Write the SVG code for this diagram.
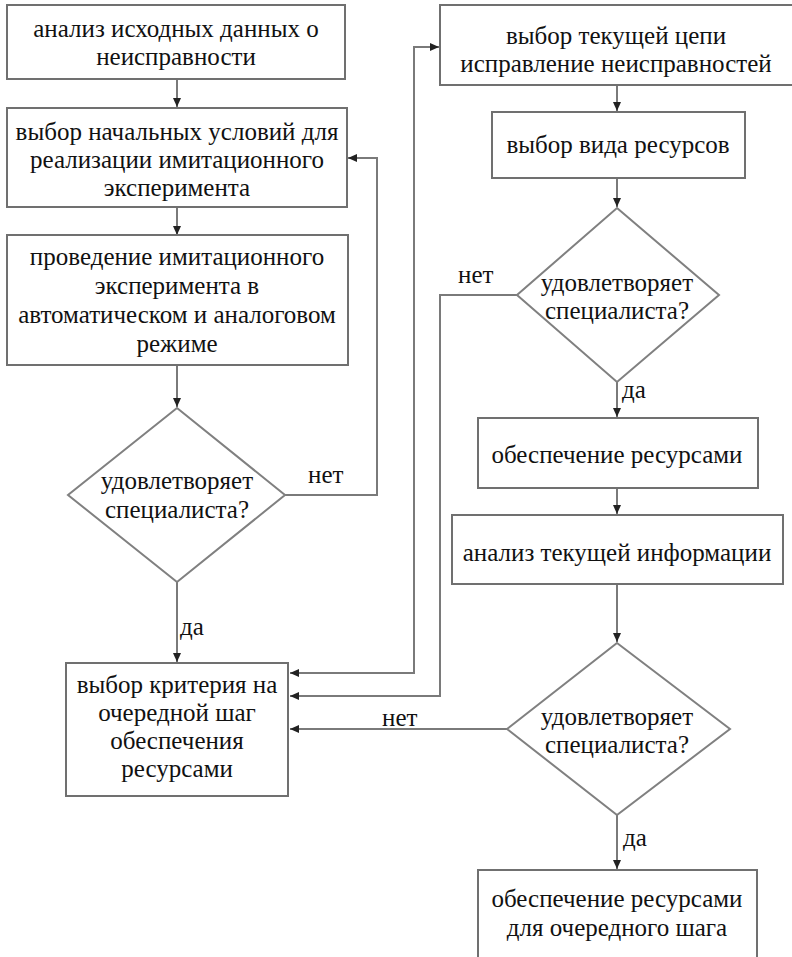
<svg xmlns="http://www.w3.org/2000/svg" width="792" height="957" viewBox="0 0 792 957" font-family="Liberation Serif" font-size="25">
<defs>
<marker id="ah" markerUnits="userSpaceOnUse" markerWidth="10" markerHeight="10" refX="9" refY="4" orient="auto">
<path d="M0,0 L9,4 L0,8 z" fill="#222"/>
</marker>
</defs>
<rect width="792" height="957" fill="#fff"/>
<g id="connectors" fill="none" stroke="#7a7a7a" stroke-width="2">
<path d="M177,79 V107" marker-end="url(#ah)"/>
<path d="M177,207 V235" marker-end="url(#ah)"/>
<path d="M177,365 V407" marker-end="url(#ah)"/>
<path d="M284,495 H377 V158 H348" marker-end="url(#ah)"/>
<path d="M177,582 V662" marker-end="url(#ah)"/>
<path d="M290,673 H414 V47 H439" marker-end="url(#ah)"/>
<path d="M414,673 H290" marker-end="url(#ah)"/>
<path d="M517,295 H440 V696 H290" marker-end="url(#ah)"/>
<path d="M507,729 H290" marker-end="url(#ah)"/>
<path d="M617,85 V111" marker-end="url(#ah)"/>
<path d="M617,178 V207" marker-end="url(#ah)"/>
<path d="M617,382 V417" marker-end="url(#ah)"/>
<path d="M617,488 V514" marker-end="url(#ah)"/>
<path d="M617,584 V642" marker-end="url(#ah)"/>
<path d="M617,815 V869" marker-end="url(#ah)"/>
</g>
<g id="labels" fill="#111" font-family="Liberation Serif">
<text x="308" y="483" font-family="Liberation Serif">нет</text>
<text x="180" y="635" font-family="Liberation Serif">да</text>
<text x="458" y="283" font-family="Liberation Serif">нет</text>
<text x="622" y="398" font-family="Liberation Serif">да</text>
<text x="382" y="726" font-family="Liberation Serif">нет</text>
<text x="623" y="846" font-family="Liberation Serif">да</text>
</g>
<g id="n1" fill="#111" text-anchor="middle" font-family="Liberation Serif">
<rect x="7" y="5" width="338" height="74" fill="#fff" stroke="#707070" stroke-width="2"/>
<text x="176" y="37" font-family="Liberation Serif">анализ исходных данных о</text>
<text x="176" y="65" font-family="Liberation Serif">неисправности</text>
</g>
<g id="n2" fill="#111" text-anchor="middle" font-family="Liberation Serif">
<rect x="7" y="108" width="340" height="99" fill="#fff" stroke="#707070" stroke-width="2"/>
<text x="177" y="140" font-family="Liberation Serif">выбор начальных условий для</text>
<text x="177" y="168" font-family="Liberation Serif">реализации имитационного</text>
<text x="177" y="196" font-family="Liberation Serif">эксперимента</text>
</g>
<g id="n3" fill="#111" text-anchor="middle" font-family="Liberation Serif">
<rect x="7" y="235" width="341" height="130" fill="#fff" stroke="#707070" stroke-width="2"/>
<text x="177" y="265" font-family="Liberation Serif">проведение имитационного</text>
<text x="177" y="294" font-family="Liberation Serif">эксперимента в</text>
<text x="177" y="323" font-family="Liberation Serif">автоматическом и аналоговом</text>
<text x="177" y="352" font-family="Liberation Serif">режиме</text>
</g>
<g id="d1" fill="#111" text-anchor="middle" font-family="Liberation Serif">
<polygon points="177,408 285,495 177,582 68,495" fill="#fff" stroke="#808080" stroke-width="2"/>
<text x="177" y="489" font-family="Liberation Serif">удовлетворяет</text>
<text x="177" y="518" font-family="Liberation Serif">специалиста?</text>
</g>
<g id="n4" fill="#111" text-anchor="middle" font-family="Liberation Serif">
<rect x="66" y="663" width="222" height="133" fill="#fff" stroke="#707070" stroke-width="2"/>
<text x="177" y="693" font-family="Liberation Serif">выбор критерия на</text>
<text x="177" y="721" font-family="Liberation Serif">очередной шаг</text>
<text x="177" y="749" font-family="Liberation Serif">обеспечения</text>
<text x="177" y="777" font-family="Liberation Serif">ресурсами</text>
</g>
<g id="r1" fill="#111" text-anchor="middle" font-family="Liberation Serif">
<rect x="440" y="5" width="360" height="80" fill="#fff" stroke="#707070" stroke-width="2"/>
<text x="616" y="44" font-family="Liberation Serif">выбор текущей цепи</text>
<text x="616" y="72" font-family="Liberation Serif">исправление неисправностей</text>
</g>
<g id="r2" fill="#111" text-anchor="middle" font-family="Liberation Serif">
<rect x="492" y="112" width="253" height="66" fill="#fff" stroke="#707070" stroke-width="2"/>
<text x="618" y="153" font-family="Liberation Serif">выбор вида ресурсов</text>
</g>
<g id="d2" fill="#111" text-anchor="middle" font-family="Liberation Serif">
<polygon points="617,208 719,295 617,382 517,295" fill="#fff" stroke="#808080" stroke-width="2"/>
<text x="617" y="291" font-family="Liberation Serif">удовлетворяет</text>
<text x="617" y="319" font-family="Liberation Serif">специалиста?</text>
</g>
<g id="r3" fill="#111" text-anchor="middle" font-family="Liberation Serif">
<rect x="478" y="418" width="280" height="70" fill="#fff" stroke="#707070" stroke-width="2"/>
<text x="617" y="463" font-family="Liberation Serif">обеспечение ресурсами</text>
</g>
<g id="r4" fill="#111" text-anchor="middle" font-family="Liberation Serif">
<rect x="452" y="515" width="331" height="69" fill="#fff" stroke="#707070" stroke-width="2"/>
<text x="617" y="561" font-family="Liberation Serif">анализ текущей информации</text>
</g>
<g id="d3" fill="#111" text-anchor="middle" font-family="Liberation Serif">
<polygon points="617,643 730,729 617,815 507,729" fill="#fff" stroke="#808080" stroke-width="2"/>
<text x="617" y="725" font-family="Liberation Serif">удовлетворяет</text>
<text x="617" y="753" font-family="Liberation Serif">специалиста?</text>
</g>
<g id="r5" fill="#111" text-anchor="middle" font-family="Liberation Serif">
<rect x="478" y="870" width="279" height="100" fill="#fff" stroke="#707070" stroke-width="2"/>
<text x="617" y="907" font-family="Liberation Serif">обеспечение ресурсами</text>
<text x="617" y="936" font-family="Liberation Serif">для очередного шага</text>
</g>
</svg>
